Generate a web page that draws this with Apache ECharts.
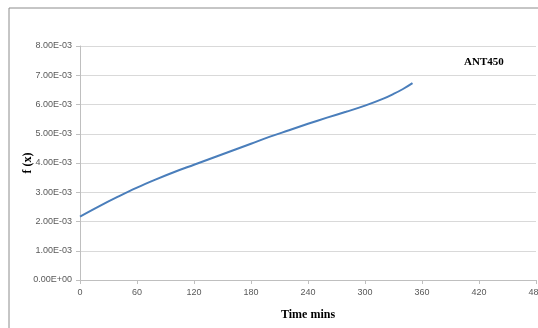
<!DOCTYPE html>
<html><head><meta charset="utf-8">
<script src="https://cdn.jsdelivr.net/npm/echarts@6/dist/echarts.min.js"></script>
<style>html,body{margin:0;padding:0;background:#fff}#c{width:538px;height:328px}</style>
</head><body><div id="c"></div>
<script>
const times = [0, 20, 40, 60, 80, 100, 120, 140, 160, 180, 200, 220, 240, 260, 280, 300, 320, 330, 340, 350];
const fx = [2.17e-3, 2.52e-3, 2.85e-3, 3.16e-3, 3.44e-3, 3.70e-3, 3.94e-3, 4.18e-3, 4.42e-3, 4.66e-3, 4.90e-3, 5.12e-3, 5.34e-3, 5.55e-3, 5.75e-3, 5.96e-3, 6.21e-3, 6.36e-3, 6.53e-3, 6.73e-3];
const seriesName = 'ANT450';
const xTitle = 'Time mins';
const yTitle = 'f (x)';

const chart = echarts.init(document.getElementById('c'), null, {renderer: 'canvas'});
const tickFont = {fontFamily: '"Liberation Sans Narrow", "Liberation Sans", Arial, sans-serif', fontSize: 9, color: '#595959'};
chart.setOption({
  animation: false,
  backgroundColor: '#fff',
  graphic: [
    {type: 'rect', shape: {x: 9, y: 8, width: 600, height: 400}, style: {fill: 'none', stroke: '#8c8c8c', lineWidth: 1}, z: 0},
    {type: 'text', left: 464, top: 57, style: {text: seriesName, font: 'bold 11px "Liberation Serif", "Times New Roman", serif', fill: '#000'}}
  ],
  grid: {left: 80, top: 46, width: 456, height: 234, containLabel: false, outerBoundsMode: 'none'},
  xAxis: {
    type: 'value', min: 0, max: 480, interval: 60,
    name: xTitle, nameLocation: 'middle', nameGap: 29, nameMoveOverlap: false,
    nameTextStyle: {fontFamily: '"Liberation Serif", "Times New Roman", serif', fontWeight: 'bold', fontSize: 12, color: '#000'},
    axisLine: {show: true, lineStyle: {color: '#bfbfbf', width: 1}},
    axisTick: {show: true, inside: false, length: 4, lineStyle: {color: '#bfbfbf'}},
    axisLabel: Object.assign({margin: 8}, tickFont),
    splitLine: {show: false}
  },
  yAxis: {
    type: 'value', min: 0, max: 8e-3, interval: 1e-3,
    name: yTitle, nameLocation: 'middle', nameGap: 46, nameRotate: 90, nameMoveOverlap: false,
    nameTextStyle: {fontFamily: '"Liberation Serif", "Times New Roman", serif', fontWeight: 'bold', fontSize: 12, color: '#000'},
    axisLine: {show: true, lineStyle: {color: '#bfbfbf', width: 1}},
    axisTick: {show: true, inside: false, length: 4, lineStyle: {color: '#bfbfbf'}},
    axisLabel: Object.assign({margin: 8, formatter: v => {
      const s = v === 0 ? '0.00E+00' : (v.toExponential(2).replace(/e([+-])(\d)$/, 'E$10$2').replace('e', 'E'));
      return s;
    }}, tickFont),
    splitLine: {show: true, lineStyle: {color: '#d9d9d9', width: 1}}
  },
  series: [{
    name: seriesName, type: 'line', smooth: 0.4, showSymbol: false,
    data: times.map((t, i) => [t, fx[i]]),
    lineStyle: {color: '#4a7ebb', width: 2}, itemStyle: {color: '#4a7ebb'}
  }]
});
</script></body></html>
